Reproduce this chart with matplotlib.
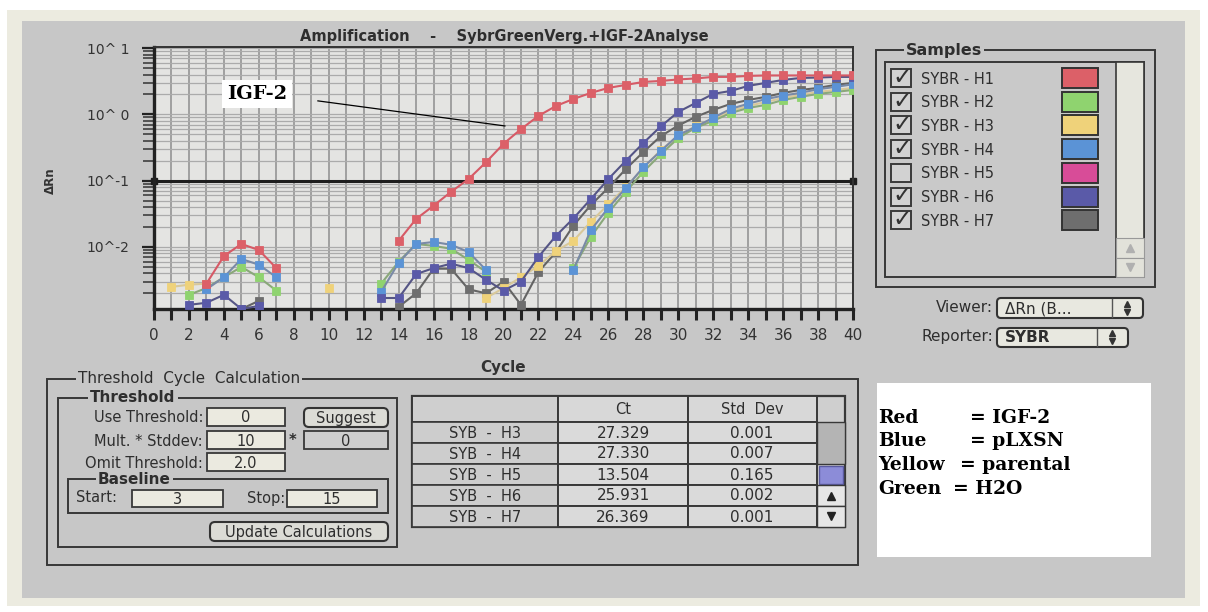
import numpy as np
import matplotlib.pyplot as plt
from matplotlib.patches import Rectangle, FancyBboxPatch
from matplotlib.ticker import FixedLocator, LogLocator, NullFormatter

nan = np.nan

# ---- data ----
cycles = list(range(1, 41))

# delta Rn, cycles 1..40 (SYBR - H5 is unchecked, so not drawn)
h1 = [nan, nan, 0.0028, 0.0073, 0.0111, 0.0090, 0.0048, nan, nan, nan,
      nan, nan, nan, 0.0124, 0.0265, 0.042, 0.068, 0.106, 0.19, 0.36,
      0.60, 0.95, 1.34, 1.71, 2.11, 2.51, 2.79, 3.09, 3.20, 3.37,
      3.49, 3.68, 3.68, 3.81, 3.87, 3.87, 3.87, 3.87, 3.87, 3.87]
h2 = [nan, 0.0019, 0.0024, 0.0035, 0.0050, 0.0035, 0.0022, nan, nan, nan,
      nan, nan, 0.0028, 0.0060, 0.0111, 0.0104, 0.0094, 0.0064, 0.0042, nan,
      nan, nan, nan, 0.0048, 0.0142, 0.033, 0.068, 0.136, 0.25, 0.44,
      0.63, 0.80, 1.05, 1.25, 1.39, 1.65, 1.84, 2.04, 2.18, 2.34]
h3 = [0.0025, 0.0027, 0.0028, nan, nan, nan, nan, nan, nan, 0.0024,
      nan, nan, nan, nan, nan, nan, nan, nan, 0.0017, 0.0024,
      0.0035, 0.0052, 0.0087, 0.0124, 0.024, 0.044, 0.080, 0.155, 0.29, 0.47,
      0.67, 0.85, 1.13, 1.34, 1.54, 1.77, 1.97, 2.18, 2.34, 2.51]
h4 = [nan, nan, 0.0023, 0.0035, 0.0066, 0.0054, 0.0035, nan, nan, nan,
      nan, nan, 0.0021, 0.0058, 0.0111, 0.0119, 0.0108, 0.0084, 0.0045, nan,
      nan, nan, nan, 0.0045, 0.018, 0.039, 0.078, 0.16, 0.28, 0.49,
      0.65, 0.89, 1.21, 1.45, 1.70, 1.92, 2.12, 2.40, 2.60, 2.85]
h6 = [nan, 0.00134, 0.00144, 0.0019, 0.00116, 0.00129, nan, nan, nan, nan,
      nan, nan, 0.0017, 0.0017, 0.0039, 0.0048, 0.0056, 0.0048, 0.0032, 0.0022,
      0.0030, 0.0071, 0.0147, 0.027, 0.053, 0.106, 0.20, 0.37, 0.66, 1.09,
      1.49, 2.04, 2.26, 2.69, 2.99, 3.31, 3.55, 3.60, 3.68, 3.68]
h7 = [nan, nan, nan, nan, 0.00116, 0.00154, nan, nan, nan, nan,
      nan, nan, nan, 0.00125, 0.0020, 0.0047, 0.0047, 0.0023, 0.0020, 0.0030,
      0.00134, 0.0042, 0.0084, 0.021, 0.043, 0.078, 0.15, 0.27, 0.47, 0.68,
      0.92, 1.17, 1.44, 1.65, 1.84, 2.11, 2.34, 2.51, 2.79, 2.99]

threshold = 0.1

sample_names = ['SYBR - H1', 'SYBR - H2', 'SYBR - H3', 'SYBR - H4',
                'SYBR - H5', 'SYBR - H6', 'SYBR - H7']
sample_on = [True, True, True, True, False, True, True]
sample_colors = ['#dc6068', '#8fd36f', '#efd27a', '#5b93d6', '#d84c98', '#5a5aa8', '#6e6e6e']

well_names = ['SYB  -  H3', 'SYB  -  H4', 'SYB  -  H5', 'SYB  -  H6', 'SYB  -  H7']
ct_vals = [27.329, 27.330, 13.504, 25.931, 26.369]
std_vals = [0.001, 0.007, 0.165, 0.002, 0.001]

legend_keys = ['Red', 'Blue', 'Yellow', 'Green']
legend_vals = ['= IGF-2', '= pLXSN', '= parental', '= H2O']

PANEL = '#c7c7c7'
BEIGE = '#ecebe0'
INK = '#2e2e2e'

fig = plt.figure(figsize=(12.08, 6.12), dpi=100)
fig.patch.set_facecolor('white')

# ---- UI layer in pixel coordinates ----
ui = fig.add_axes([0, 0, 1, 1])
ui.set_xlim(0, 1208)
ui.set_ylim(612, 0)
ui.axis('off')
ui.set_zorder(0)


def rect(x0, y0, x1, y1, fc='none', ec='#383838', lw=1.3, z=2):
    ui.add_patch(Rectangle((x0, y0), x1 - x0, y1 - y0, fc=fc, ec=ec, lw=lw, zorder=z))


def txt(x, y, s, ha='left', size=10.5, bold=False, color=INK, **kw):
    ui.text(x, y, s, ha=ha, va='center', fontsize=size, color=color,
            fontweight='bold' if bold else 'normal', zorder=5, **kw)


def group(x0, y0, x1, y1, title, tx, bold=False, size=10.5):
    rect(x0, y0, x1, y1, lw=1.4)
    ui.text(tx, y0, title, ha='left', va='center', fontsize=size, color=INK,
            fontweight='bold' if bold else 'normal', zorder=5,
            bbox=dict(fc=PANEL, ec='none', pad=1.5))


def field(x0, y0, x1, y1, s, fc='#ebeae0'):
    rect(x0, y0, x1, y1, fc=fc, lw=1.3)
    txt((x0 + x1) / 2, (y0 + y1) / 2 + 1, s, ha='center')


def button(x0, y0, x1, y1, s):
    ui.add_patch(FancyBboxPatch((x0, y0), x1 - x0, y1 - y0,
                                boxstyle='round,pad=0,rounding_size=5',
                                fc='#dcdcd6', ec='#333333', lw=1.5, zorder=2))
    txt((x0 + x1) / 2, (y0 + y1) / 2 + 1, s, ha='center')


def updown(x, y):
    ui.plot([x], [y - 4], marker='^', ms=5, color='#333333', zorder=6)
    ui.plot([x], [y + 4], marker='v', ms=5, color='#333333', zorder=6)


rect(7, 10, 1200, 606, fc=BEIGE, ec='none', z=0)
rect(22, 21, 1185, 598, fc=PANEL, ec='none', z=1)

txt(504, 37, 'Amplification    -    SybrGreenVerg.+IGF-2Analyse', ha='center', bold=True, size=10.5)

# samples list
group(876, 50, 1155, 287, 'Samples', 906, bold=True, size=11.5)
rect(885, 62, 1144, 277, fc='#c9c9c9', lw=1.4)
rect(1116, 62, 1144, 277, fc='#e6e6de', lw=1.2)
rect(1116, 238, 1144, 258, fc='#e2e2da', lw=0.8, ec='#999999')
rect(1116, 258, 1144, 277, fc='#e2e2da', lw=0.8, ec='#999999')
ui.plot([1130], [248], marker='^', ms=6, color='#b0b0b0', zorder=6)
ui.plot([1130], [267], marker='v', ms=6, color='#b0b0b0', zorder=6)
for i, (name, on, col) in enumerate(zip(sample_names, sample_on, sample_colors)):
    yc = 78 + i * 23.7
    rect(891, yc - 9, 911, yc + 9, fc='#d2d2d2', ec='#3a3a3a', lw=1.4)
    if on:
        txt(902, yc - 1, '\u2713', ha='center', size=17, bold=True, color='#333333')
    txt(921, yc + 1, name, size=10.5)
    rect(1062, yc - 10, 1098, yc + 10, fc=col, ec='#333333', lw=1.4)

txt(993, 308, 'Viewer:', ha='right', size=11)
ui.add_patch(FancyBboxPatch((997, 298), 146, 20, boxstyle='round,pad=0,rounding_size=4',
                            fc='#e8e8e0', ec='#333333', lw=1.5, zorder=2))
ui.plot([1112, 1112], [299, 317], color='#555555', lw=1, zorder=3)
txt(1005, 309, '\u0394Rn (B...', size=11)
updown(1127, 308)
txt(993, 337, 'Reporter:', ha='right', size=11)
ui.add_patch(FancyBboxPatch((997, 328), 131, 19, boxstyle='round,pad=0,rounding_size=4',
                            fc='#e8e8e0', ec='#333333', lw=1.5, zorder=2))
ui.plot([1097, 1097], [329, 346], color='#555555', lw=1, zorder=3)
txt(1005, 338, 'SYBR', size=11, bold=True)
updown(1112, 337)

# threshold cycle calculation
group(47, 379, 858, 565, 'Threshold  Cycle  Calculation', 78, size=11)
group(58, 398, 397, 547, 'Threshold', 90, bold=True, size=11)
txt(203, 418, 'Use Threshold:', ha='right')
field(207, 408, 285, 426, '0')
button(304, 408, 388, 427, 'Suggest')
txt(203, 441, 'Mult. * Stddev:', ha='right')
field(207, 431, 285, 449, '10')
txt(293, 440, '*', ha='center', bold=True)
field(304, 431, 388, 449, '0', fc='#cdcdcd')
txt(203, 463, 'Omit Threshold:', ha='right')
field(207, 453, 285, 471, '2.0')
group(68, 479, 388, 513, 'Baseline', 98, bold=True, size=11)
txt(76, 498, 'Start:')
field(132, 490, 223, 507, '3')
txt(285, 498, 'Stop:', ha='right')
field(287, 490, 377, 507, '15')
button(210, 522, 388, 541, 'Update Calculations')

# Ct table
rect(412, 396, 845, 527, fc='#cfcfcf', lw=1.6)
rect(412, 396, 558, 422, fc='#cfcfcf', lw=1.4)
rect(558, 396, 688, 422, fc='#d8d8d8', lw=1.4)
rect(688, 396, 817, 422, fc='#d8d8d8', lw=1.4)
txt(623, 410, 'Ct', ha='center')
txt(752, 410, 'Std  Dev', ha='center')
for i in range(len(well_names)):
    y0 = 422 + i * 21
    rect(412, y0, 558, y0 + 21, fc='#cdcdcd', lw=1.2)
    rect(558, y0, 688, y0 + 21, fc='#dadada', lw=1.4)
    rect(688, y0, 817, y0 + 21, fc='#dadada', lw=1.4)
    txt(485, y0 + 11.5, well_names[i], ha='center')
    txt(623, y0 + 11, '%.3f' % ct_vals[i], ha='center', size=11)
    txt(752, y0 + 11, '%.3f' % std_vals[i], ha='center', size=11)
rect(817, 422, 845, 464, fc='#b4b4b4', lw=1.0)
rect(819, 466, 843, 484, fc='#8c8cd8', ec='#5a5aa0', lw=1.0)
rect(817, 485, 845, 506, fc='#e6e6e6', lw=1.0)
rect(817, 506, 845, 527, fc='#e6e6e6', lw=1.0)
ui.plot([831], [496], marker='^', ms=6, color='#222222', zorder=6)
ui.plot([831], [516], marker='v', ms=6, color='#222222', zorder=6)

# colour key
rect(877, 383, 1151, 557, fc='white', ec='none', z=2)
key_eq_x = [970, 970, 960, 953]
for i, (k, v) in enumerate(zip(legend_keys, legend_vals)):
    yc = 418 + i * 23.5
    ui.text(878, yc, k, ha='left', va='center', fontsize=13.5, family='DejaVu Serif',
            fontweight='bold', color='black', zorder=5)
    ui.text(key_eq_x[i], yc, v, ha='left', va='center', fontsize=13.5, family='DejaVu Serif',
            fontweight='bold', color='black', zorder=5)

# ---- amplification plot ----
ax = fig.add_axes([154 / 1208, 1 - 309 / 612, (853 - 154) / 1208, (309 - 47) / 612])
ax.set_zorder(3)
ax.set_facecolor('#e4e4e2')
ax.set_yscale('log')
ax.set_xlim(0, 40)
ax.set_ylim(0.00116, 10.4)

ax.set_xticks(range(0, 41))
ax.set_xticklabels([str(c) if c % 2 == 0 else '' for c in range(0, 41)])
ax.yaxis.set_major_locator(FixedLocator([0.01, 0.1, 1, 10]))
ax.set_yticklabels(['10^-2', '10^-1', '10^ 0', '10^ 1'])
ax.yaxis.set_minor_locator(LogLocator(subs=np.arange(2, 10)))
ax.yaxis.set_minor_formatter(NullFormatter())

ax.tick_params(axis='x', which='major', direction='out', length=8, width=2.2, color='#222222',
               pad=6, labelsize=11, labelcolor='#333333')
ax.tick_params(axis='y', which='major', direction='out', length=9, width=1.6, color='#222222',
               pad=9, labelsize=10, labelcolor='#333333')
ax.tick_params(axis='y', which='minor', direction='out', length=8, width=1.1, color='#333333')

for side in ['bottom', 'left']:
    ax.spines[side].set_linewidth(2.4)
    ax.spines[side].set_color('#222222')
for side in ['top', 'right']:
    ax.spines[side].set_linewidth(1.4)
    ax.spines[side].set_color('#333333')

ax.grid(True, which='major', axis='x', color='#9a9a9a', lw=1.3)
ax.grid(True, which='both', axis='y', color='#ababab', lw=0.9)
ax.set_axisbelow(True)

ax.axhline(threshold, color='#1e1e1e', lw=2.2, zorder=2)
ax.plot([0, 40], [threshold, threshold], ls='none', marker='s', ms=5, color='#1e1e1e',
        clip_on=False, zorder=2)

series = [(h7, '#6e6e6e', '#646464'), (h3, '#efd27a', '#d8c89a'), (h2, '#8fd36f', '#8aa87a'),
          (h4, '#5b93d6', '#7a8aa6'), (h6, '#5a5aa8', '#555585'), (h1, '#dc6068', '#d65a66')]
for vals, mc, lc in series:
    ax.plot(cycles, vals, color=lc, lw=1.5, marker='s', ms=5.2, mfc=mc, mec=mc,
            mew=0.6, zorder=4)

ax.plot([9.38, 20.08], [1.6, 0.67], color='black', lw=0.9, zorder=5)
ax.text(5.9, 2.04, 'IGF-2', ha='center', va='center', fontsize=14, family='DejaVu Serif',
        fontweight='bold', color='black', zorder=6,
        bbox=dict(fc='white', ec='none', boxstyle='square,pad=0.25'))

ax.set_xlabel('Cycle', fontsize=11, fontweight='bold', color='#333333', labelpad=12)
ax.set_ylabel('\u0394Rn', fontsize=8.5, fontweight='bold', color='#333333')
ax.yaxis.set_label_coords(-0.139, 0.49)

fig.savefig('out.png', dpi=100)
